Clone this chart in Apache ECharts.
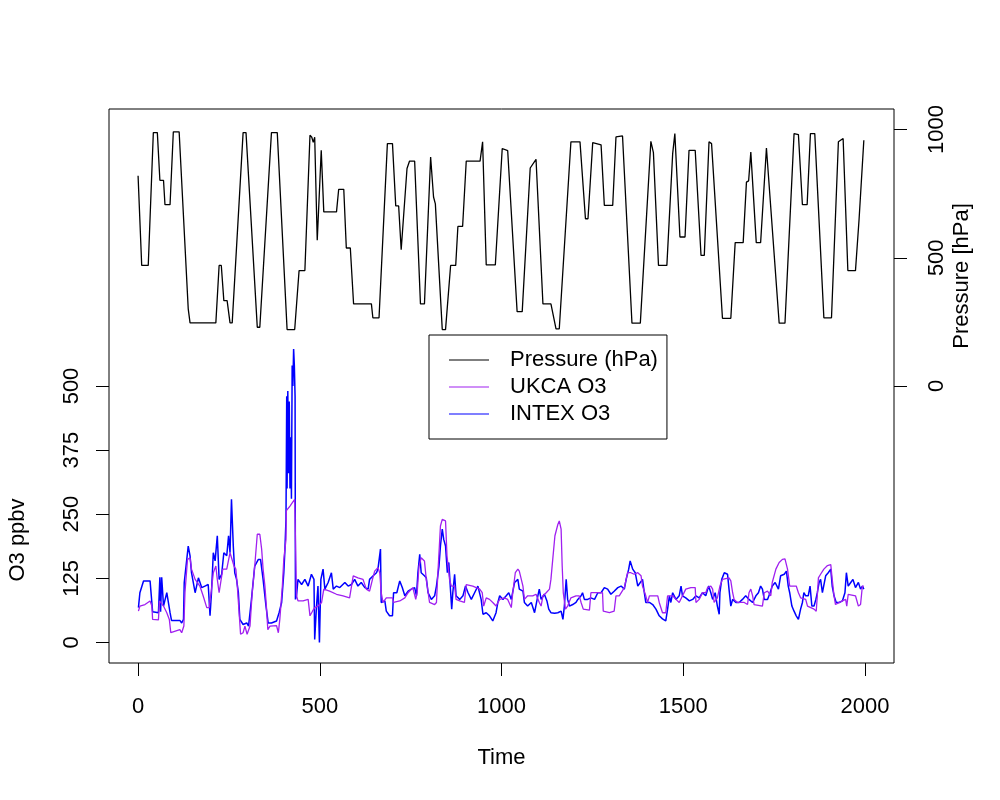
<!DOCTYPE html>
<html><head><meta charset="utf-8">
<script src="https://cdn.jsdelivr.net/npm/echarts@6/dist/echarts.min.js"></script>
<style>html,body{margin:0;padding:0;background:#fff}#c{width:1000px;height:800px}</style>
</head><body><div id="c"></div>
<script>
// Time ticks / axis tick labels
const timeTicks = [0, 500, 1000, 1500, 2000];
const o3Ticks = [0, 125, 250, 375, 500];
const pressureTicks = [0, 500, 1000];

// Pressure (hPa) as [time, value]
const pressureData = [
[0,820],[10,470],[28,470],[42,988],[53,988],[60,802],[70,802],[74,707],[88,707],[97,991],
[113,991],[138,301],[143,246],[214,246],[223,470],[229,470],[236,333],[245,333],[253,246],[259,246],
[289,988],[297,988],[328,229],[335,229],[367,988],[383,988],[410,220],[431,220],[443,450],[459,450],
[473,978],[478,970],[482,950],[486,970],[493,568],[504,919],[511,679],[546,679],[552,767],[566,767],
[573,538],[584,538],[593,320],[642,320],[646,266],[663,266],[686,945],[700,945],[709,702],[717,702],
[724,531],[729,531],[740,848],[747,877],[761,877],[777,320],[788,320],[805,893],[813,737],[818,710],
[837,220],[846,220],[860,470],[874,470],[880,622],[893,622],[903,877],[941,877],[948,952],[958,472],
[983,472],[1002,926],[1017,918],[1043,290],[1057,290],[1079,850],[1095,884],[1114,320],[1136,320],[1150,223],
[1159,223],[1191,952],[1216,952],[1231,652],[1238,652],[1251,949],[1274,940],[1283,704],[1306,704],[1315,971],
[1333,975],[1359,245],[1382,245],[1411,954],[1418,910],[1432,470],[1455,470],[1471,906],[1477,984],[1491,581],
[1505,581],[1516,919],[1533,919],[1549,509],[1558,509],[1571,952],[1578,945],[1608,264],[1631,264],[1643,559],
[1665,559],[1674,795],[1680,800],[1686,912],[1701,559],[1713,559],[1729,928],[1764,245],[1780,245],[1805,984],
[1817,980],[1828,707],[1841,707],[1850,984],[1862,984],[1887,266],[1908,266],[1927,952],[1940,965],[1953,450],
[1974,450],[1984,652],[1989,652],[1997,958]
];

// INTEX O3 (ppbv) as [time, value]
const intexO3 = [
[1,68],[5,97],[10,97],[15,120],[33,120],[35,117],[40,60],[42,58],[56,58],[60,127],[62,60],[65,127],[70,71],[79,97],[88,58],[92,43],[115,43],[120,38],[125,45],[127,117],
[138,188],[143,169],[147,136],[157,97],[166,126],[175,107],[184,110],[193,113],[198,52],[202,97],[207,175],[212,159],[218,208],[223,123],[230,133],[236,175],[244,169],[249,208],[253,175],[257,279],
[262,188],[266,136],[271,123],[276,97],[280,45],[289,35],[299,38],[304,32],[312,84],[321,149],[331,162],[337,162],[344,123],[352,71],[358,38],[367,38],[381,42],[388,58],[395,78],[401,136],
[404,180],[407,240],[409,480],[410,300],[412,490],[414,330],[416,470],[418,300],[420,400],[422,280],[424,540],[426,500],[428,572],[430,540],[432,480],[433,84],[436,91],[440,123],[450,113],[459,123],
[468,110],[477,133],[484,123],[486,6],[491,71],[495,110],[499,0],[503,123],[509,143],[514,104],[523,117],[532,136],[537,104],[546,110],[555,107],[569,117],[578,110],[587,113],[596,123],[605,110],
[614,117],[624,107],[633,104],[637,123],[647,130],[656,136],[660,143],[667,182],[669,78],[679,81],[683,61],[692,52],[700,52],[703,97],[712,97],[720,120],[727,107],[734,91],[743,100],[752,104],
[761,107],[766,91],[770,136],[775,172],[779,136],[788,130],[793,126],[798,97],[807,84],[816,91],[821,110],[828,149],[832,188],[837,221],[841,201],[846,188],[851,136],[855,156],[859,110],[863,65],
[866,97],[871,133],[875,91],[885,84],[894,91],[901,110],[908,97],[917,84],[926,97],[935,110],[944,84],[949,55],[958,58],[967,52],[976,42],[985,58],[990,78],[995,91],[1004,84],[1013,91],
[1020,97],[1027,84],[1036,117],[1045,123],[1049,104],[1059,100],[1063,78],[1072,71],[1082,78],[1091,58],[1100,91],[1104,104],[1109,84],[1118,94],[1125,81],[1130,65],[1136,58],[1146,57],[1155,58],[1164,61],
[1169,45],[1173,71],[1178,123],[1182,84],[1187,71],[1196,74],[1205,78],[1210,84],[1219,91],[1223,97],[1228,84],[1237,84],[1246,87],[1256,84],[1265,97],[1274,97],[1283,107],[1288,110],[1292,104],[1301,94],
[1310,100],[1320,107],[1329,110],[1338,104],[1343,123],[1350,143],[1354,159],[1361,143],[1368,136],[1375,110],[1379,107],[1388,123],[1393,97],[1397,78],[1407,78],[1416,74],[1425,65],[1434,52],[1443,46],[1452,42],
[1457,65],[1462,91],[1466,78],[1471,97],[1480,84],[1489,91],[1494,110],[1498,91],[1507,87],[1517,81],[1526,84],[1535,91],[1544,87],[1553,97],[1562,91],[1570,110],[1576,97],[1581,84],[1588,97],[1594,71],
[1599,55],[1601,97],[1606,123],[1613,136],[1622,133],[1626,104],[1631,71],[1636,84],[1645,78],[1654,78],[1663,84],[1672,91],[1681,84],[1691,78],[1700,91],[1707,97],[1713,110],[1718,104],[1723,84],[1732,84],
[1739,97],[1745,110],[1753,117],[1762,104],[1768,130],[1778,133],[1784,139],[1789,110],[1793,97],[1799,71],[1805,61],[1811,52],[1817,45],[1823,65],[1828,78],[1832,97],[1837,91],[1844,91],[1849,110],[1854,71],
[1860,71],[1865,84],[1869,97],[1874,117],[1878,123],[1883,97],[1892,130],[1899,136],[1906,143],[1910,110],[1915,91],[1921,78],[1929,78],[1938,81],[1945,97],[1949,136],[1954,110],[1961,117],[1967,123],[1974,107],
[1982,117],[1988,104],[1993,110],[1997,104]
];

// UKCA O3 (ppbv) as [time, value]
const ukcaO3 = [
[1,61],[5,71],[19,74],[33,81],[38,71],[40,45],[56,44],[59,81],[70,71],[79,58],[86,45],[90,19],[115,25],[120,19],[126,32],[129,97],[136,162],[143,165],[147,143],[157,123],
[170,110],[179,91],[189,68],[196,68],[198,84],[201,97],[207,136],[214,149],[218,123],[223,97],[228,100],[233,143],[244,143],[253,175],[257,175],[264,149],[269,143],[273,110],[278,58],[282,16],
[289,19],[294,32],[300,16],[308,32],[314,97],[321,149],[328,211],[335,211],[340,182],[344,143],[349,110],[353,71],[357,25],[363,32],[381,33],[386,19],[390,45],[397,110],[401,162],[407,201],
[408,257],[418,266],[425,273],[431,279],[436,91],[440,81],[454,81],[468,84],[473,52],[480,61],[486,68],[495,71],[500,71],[505,78],[511,104],[527,100],[546,94],[564,91],[582,87],[587,87],
[592,130],[605,126],[619,123],[628,104],[637,100],[645,123],[651,139],[660,146],[665,136],[669,97],[674,78],[683,87],[700,87],[703,78],[720,81],[734,87],[743,97],[756,107],[764,84],[768,97],
[773,149],[779,165],[788,159],[793,123],[802,78],[816,74],[821,78],[825,136],[832,227],[837,240],[846,237],[850,169],[857,123],[862,110],[871,110],[875,84],[885,81],[898,78],[903,113],[921,110],
[940,104],[947,97],[951,71],[958,87],[967,84],[976,78],[985,71],[990,68],[995,84],[1008,87],[1017,84],[1027,68],[1031,97],[1038,136],[1045,143],[1049,139],[1059,110],[1063,84],[1072,91],[1086,91],
[1095,94],[1104,78],[1109,71],[1114,91],[1123,97],[1132,104],[1136,123],[1141,162],[1147,208],[1155,230],[1159,237],[1164,221],[1167,149],[1170,97],[1176,65],[1182,71],[1191,87],[1205,91],[1214,91],[1219,78],
[1225,65],[1242,63],[1246,97],[1265,97],[1278,97],[1280,61],[1297,58],[1310,61],[1315,91],[1324,91],[1338,107],[1347,136],[1356,136],[1365,133],[1375,136],[1384,130],[1388,110],[1397,91],[1402,78],[1407,91],
[1411,94],[1430,91],[1434,78],[1443,58],[1452,58],[1457,91],[1471,91],[1480,84],[1489,78],[1494,78],[1507,104],[1521,107],[1533,107],[1535,78],[1544,84],[1553,97],[1562,97],[1567,107],[1576,110],[1581,104],
[1585,78],[1594,87],[1601,110],[1608,123],[1626,126],[1631,120],[1636,97],[1640,84],[1649,78],[1668,78],[1677,74],[1681,97],[1686,104],[1691,91],[1695,74],[1718,71],[1723,97],[1732,100],[1741,91],[1745,117],
[1755,143],[1764,156],[1773,162],[1780,163],[1787,143],[1793,110],[1811,110],[1817,97],[1823,87],[1837,84],[1842,71],[1860,65],[1866,61],[1869,91],[1872,126],[1878,133],[1887,143],[1897,150],[1906,152],[1910,123],
[1915,91],[1919,74],[1938,81],[1947,84],[1950,71],[1954,94],[1974,91],[1982,71],[1988,74],[1993,110],[1997,110]
];

const FONT = 'Liberation Sans';
const FS = 22;
const plain = v => String(v);
const chart = echarts.init(document.getElementById('c'), null, {renderer: 'canvas'});
chart.setOption({
  animation: false,
  backgroundColor: '#fff',
  textStyle: {fontFamily: FONT, color: '#000'},
  grid: {left: 109, right: 106, top: 109, bottom: 137, show: true, borderColor: '#000', borderWidth: 1},
  legend: {
    orient: 'vertical', left: 429, top: 335,
    data: ['Pressure (hPa)', 'UKCA O3', 'INTEX O3'],
    icon: 'rect', itemWidth: 40, itemHeight: 1, itemGap: 5,
    padding: [14, 9, 14, 20],
    borderColor: '#000', borderWidth: 1,
    textStyle: {fontFamily: FONT, fontSize: FS, color: '#000', padding: [0, 0, 0, 16]}
  },
  xAxis: {
    type: 'value', min: -80, max: 2080,
    axisLine: {show: false, onZero: false}, splitLine: {show: false},
    axisTick: {show: true, length: 13, customValues: timeTicks, lineStyle: {color: '#000'}},
    axisLabel: {customValues: timeTicks, formatter: plain, fontFamily: FONT, fontSize: FS, color: '#000', margin: 33},
    name: 'Time', nameLocation: 'middle', nameGap: 84,
    nameTextStyle: {fontFamily: FONT, fontSize: FS, color: '#000'}
  },
  yAxis: [
    {
      type: 'value', position: 'left', min: -40, max: 1040,
      axisLine: {show: false, onZero: false}, splitLine: {show: false},
      axisTick: {show: true, length: 13, customValues: o3Ticks, lineStyle: {color: '#000'}},
      axisLabel: {customValues: o3Ticks, formatter: plain, rotate: 90, fontFamily: FONT, fontSize: FS, color: '#000', margin: 26}
    },
    {
      type: 'value', position: 'right', min: -1080, max: 1080,
      axisLine: {show: false, onZero: false}, splitLine: {show: false},
      axisTick: {show: true, length: 13, customValues: pressureTicks, lineStyle: {color: '#000'}},
      axisLabel: {customValues: pressureTicks, formatter: plain, rotate: 90, fontFamily: FONT, fontSize: FS, color: '#000', margin: 32}
    }
  ],
  graphic: [
    {type: 'text', x: 18, y: 540, rotation: Math.PI / 2,
     style: {text: 'O3 ppbv', font: FS + 'px "Liberation Sans"', fill: '#000', textAlign: 'center', textVerticalAlign: 'middle'}},
    {type: 'text', x: 962, y: 276, rotation: Math.PI / 2,
     style: {text: 'Pressure [hPa]', font: FS + 'px "Liberation Sans"', fill: '#000', textAlign: 'center', textVerticalAlign: 'middle'}}
  ],
  series: [
    {name: 'Pressure (hPa)', type: 'line', yAxisIndex: 1, data: pressureData, showSymbol: false,
     lineStyle: {color: '#000', width: 1.3}, itemStyle: {color: '#000'}},
    {name: 'INTEX O3', type: 'line', yAxisIndex: 0, data: intexO3, showSymbol: false,
     lineStyle: {color: '#0000ff', width: 1.5}, itemStyle: {color: '#0000ff'}},
    {name: 'UKCA O3', type: 'line', yAxisIndex: 0, data: ukcaO3, showSymbol: false,
     lineStyle: {color: '#a020f0', width: 1.3}, itemStyle: {color: '#a020f0'}}
  ]
});
</script>
</body></html>
